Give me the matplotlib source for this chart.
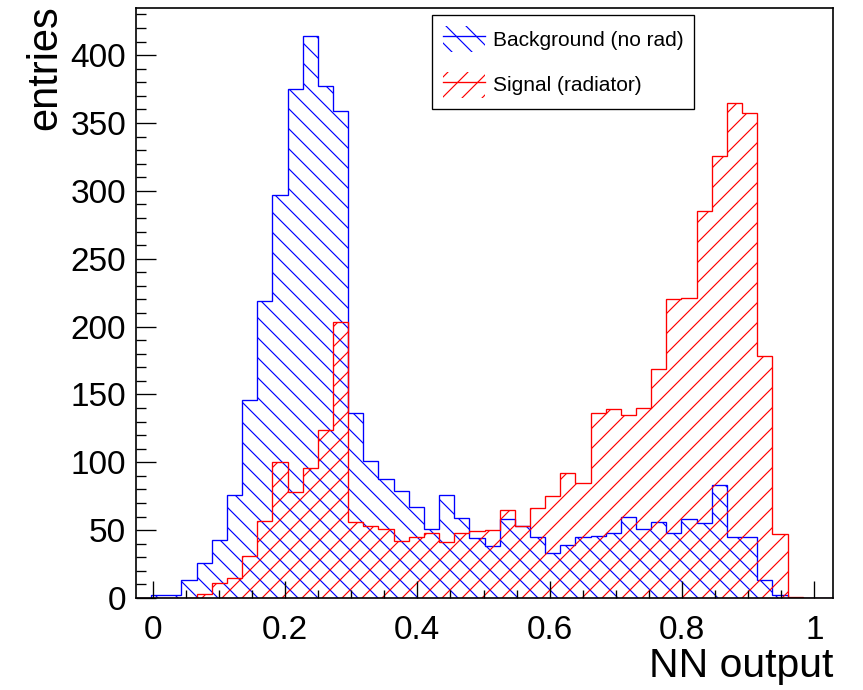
import numpy as np
import matplotlib.pyplot as plt
from matplotlib.patches import Patch
from matplotlib.lines import Line2D
from matplotlib.ticker import MultipleLocator

plt.rcParams['font.family'] = ['Liberation Sans', 'DejaVu Sans']
plt.rcParams['hatch.linewidth'] = 0.7

# histogram binning (46 bins over the frame range)
bin_lo = -0.025
bin_hi = 1.028
n_bins = 46

# bin contents
background = [0, 2, 2, 13, 26, 43, 76, 146, 219, 297, 375, 414, 377, 359, 136, 101,
              88, 79, 67, 51, 76, 59, 44, 38, 58, 53, 45, 33, 39, 45, 46, 48,
              60, 51, 56, 48, 58, 55, 83, 45, 45, 13, 2, 0, 0, 0]
signal = [0, 0, 0, 0, 3, 11, 15, 31, 57, 100, 78, 96, 124, 203, 56, 53,
          51, 42, 45, 48, 41, 48, 49, 50, 65, 53, 66, 75, 92, 85, 136, 139,
          135, 140, 169, 220, 221, 285, 326, 365, 357, 178, 47, 1, 0, 0]
labels = ['Background (no rad)', 'Signal (radiator)']

edges = np.linspace(bin_lo, bin_hi, n_bins + 1)

dpi = 120
fig = plt.figure(figsize=(863 / dpi, 690 / dpi), dpi=dpi)
ax = fig.add_axes([136 / 863, 92 / 690, 697 / 863, 590 / 690])

ax.stairs(background, edges, fill=True, facecolor='none', edgecolor='blue',
          hatch='\\\\', linewidth=0.8)
ax.stairs(signal, edges, fill=True, facecolor='none', edgecolor='red',
          hatch='//', linewidth=0.8)

ax.set_xlim(bin_lo, bin_hi)
ax.set_ylim(0, max(background) * 1.05)

# ROOT-like axes
ax.xaxis.set_major_locator(MultipleLocator(0.2))
ax.xaxis.set_minor_locator(MultipleLocator(0.05))
ax.yaxis.set_major_locator(MultipleLocator(50))
ax.yaxis.set_minor_locator(MultipleLocator(10))
ax.xaxis.set_major_formatter(plt.FuncFormatter(lambda v, p: f'{v:g}'))
ax.tick_params(axis='x', which='major', direction='in', length=10, width=0.8,
               labelsize=20, pad=10)
ax.tick_params(axis='x', which='minor', direction='in', length=5, width=0.8)
ax.tick_params(axis='y', which='major', direction='in', length=12, width=0.8,
               labelsize=20, pad=6)
ax.tick_params(axis='y', which='minor', direction='in', length=6, width=0.8)
for s in ax.spines.values():
    s.set_linewidth(1.0)

ax.set_xlabel('NN output', fontsize=24.5, loc='right')
ax.set_ylabel('entries', fontsize=25, loc='top')
ax.xaxis.set_label_coords(1.0, -0.083)
ax.yaxis.set_label_coords(-0.102, 1.005)

# legend entries: hatched box with a line through it
handles = [
    (Patch(facecolor='none', edgecolor='blue', hatch='\\\\', linewidth=0),
     Line2D([], [], color='blue', linewidth=0.8)),
    (Patch(facecolor='none', edgecolor='red', hatch='//', linewidth=0),
     Line2D([], [], color='red', linewidth=0.8)),
]
leg = ax.legend(handles, labels, loc='upper left', bbox_to_anchor=(0.4247, 0.988),
                fontsize=12.5, frameon=True, fancybox=False, edgecolor='black',
                framealpha=1, handlelength=2.0, handleheight=1.55,
                labelspacing=0.94, borderpad=0.52, handletextpad=0.4,
                borderaxespad=0)
leg.get_frame().set_linewidth(0.8)

fig.savefig('out.png', dpi=dpi)
